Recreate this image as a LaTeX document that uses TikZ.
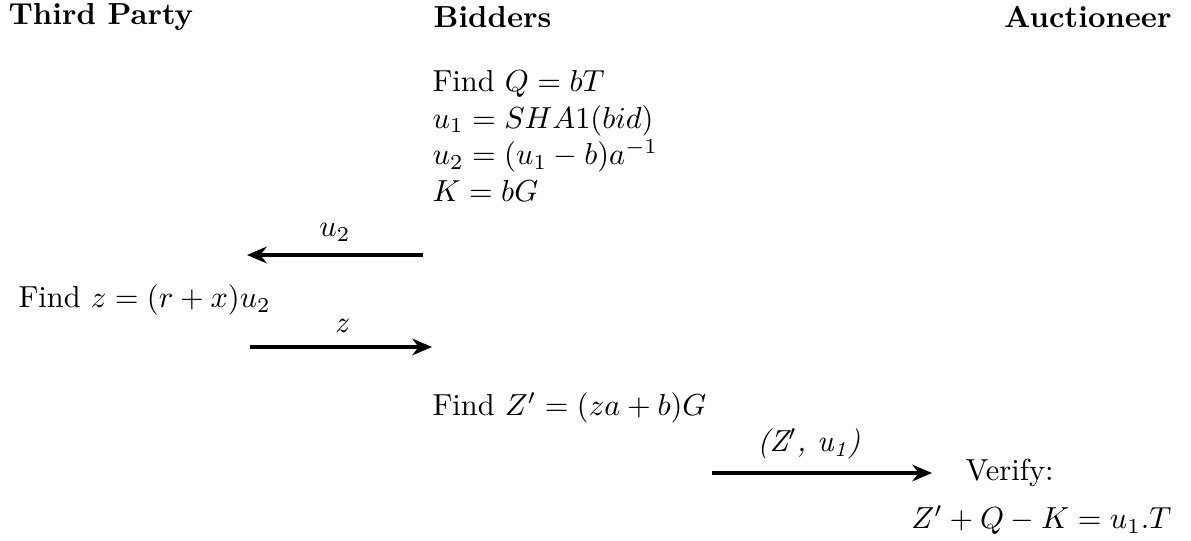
\documentclass[tikz,border=0pt]{standalone}
\usepackage{amsmath,amssymb}
\usepackage{tikz}
\usetikzlibrary{arrows.meta, positioning}

\begin{document}
\begin{tikzpicture}[
  x=0.011545cm, y=-0.011545cm,
  every node/.style={align=left, inner sep=0pt},
  hdr/.style={font=\bfseries},
  msg/.style={-{Stealth[length=6.5pt,width=5.5pt]}, line width=1pt},
  lbl/.style={above=4pt, font=\itshape}
]
  \useasboundingbox (0,0) rectangle (1191,541);

  % parties
  \node[hdr, anchor=west] (tp)  at (8,17)    {Third Party};
  \node[hdr, anchor=west] (bid) at (433,17)  {Bidders};
  \node[hdr, anchor=east] (auc) at (1172,17) {Auctioneer};

  % bidder side
  \node[anchor=north west] (step1) at (432,70)
    {Find $Q = bT$\\ $u_1 = SHA1(bid)$\\ $u_2 = (u_1 - b)a^{-1}$\\ $K = bG$};
  \node[anchor=west] (step2) at (18,300)  {Find $z = (r + x)u_2$};
  \node[anchor=west] (step3) at (432,408) {Find $Z' = (za + b)G$};
  \node[anchor=west] (vrf)  at (965,473)  {Verify:};
  \node[anchor=east] (chk)  at (1172,520) {$Z' + Q - K = u_1.T$};

  \coordinate (m1a) at (423,255);
  \coordinate (m1b) at (247,255);
  \coordinate (m2a) at (250,347);
  \coordinate (m2b) at (432,347);
  \coordinate (m3a) at (712,473);
  \coordinate (m3b) at (932,473);

  \draw[msg] (m1a) -- node[lbl]{$u_2$} (m1b);
  \draw[msg] (m2a) -- node[lbl]{z} (m2b);
  \draw[msg] (m3a) -- node[lbl, pos=0.44]{(Z$'$, u\textsubscript{1})} (m3b);
\end{tikzpicture}
\end{document}
